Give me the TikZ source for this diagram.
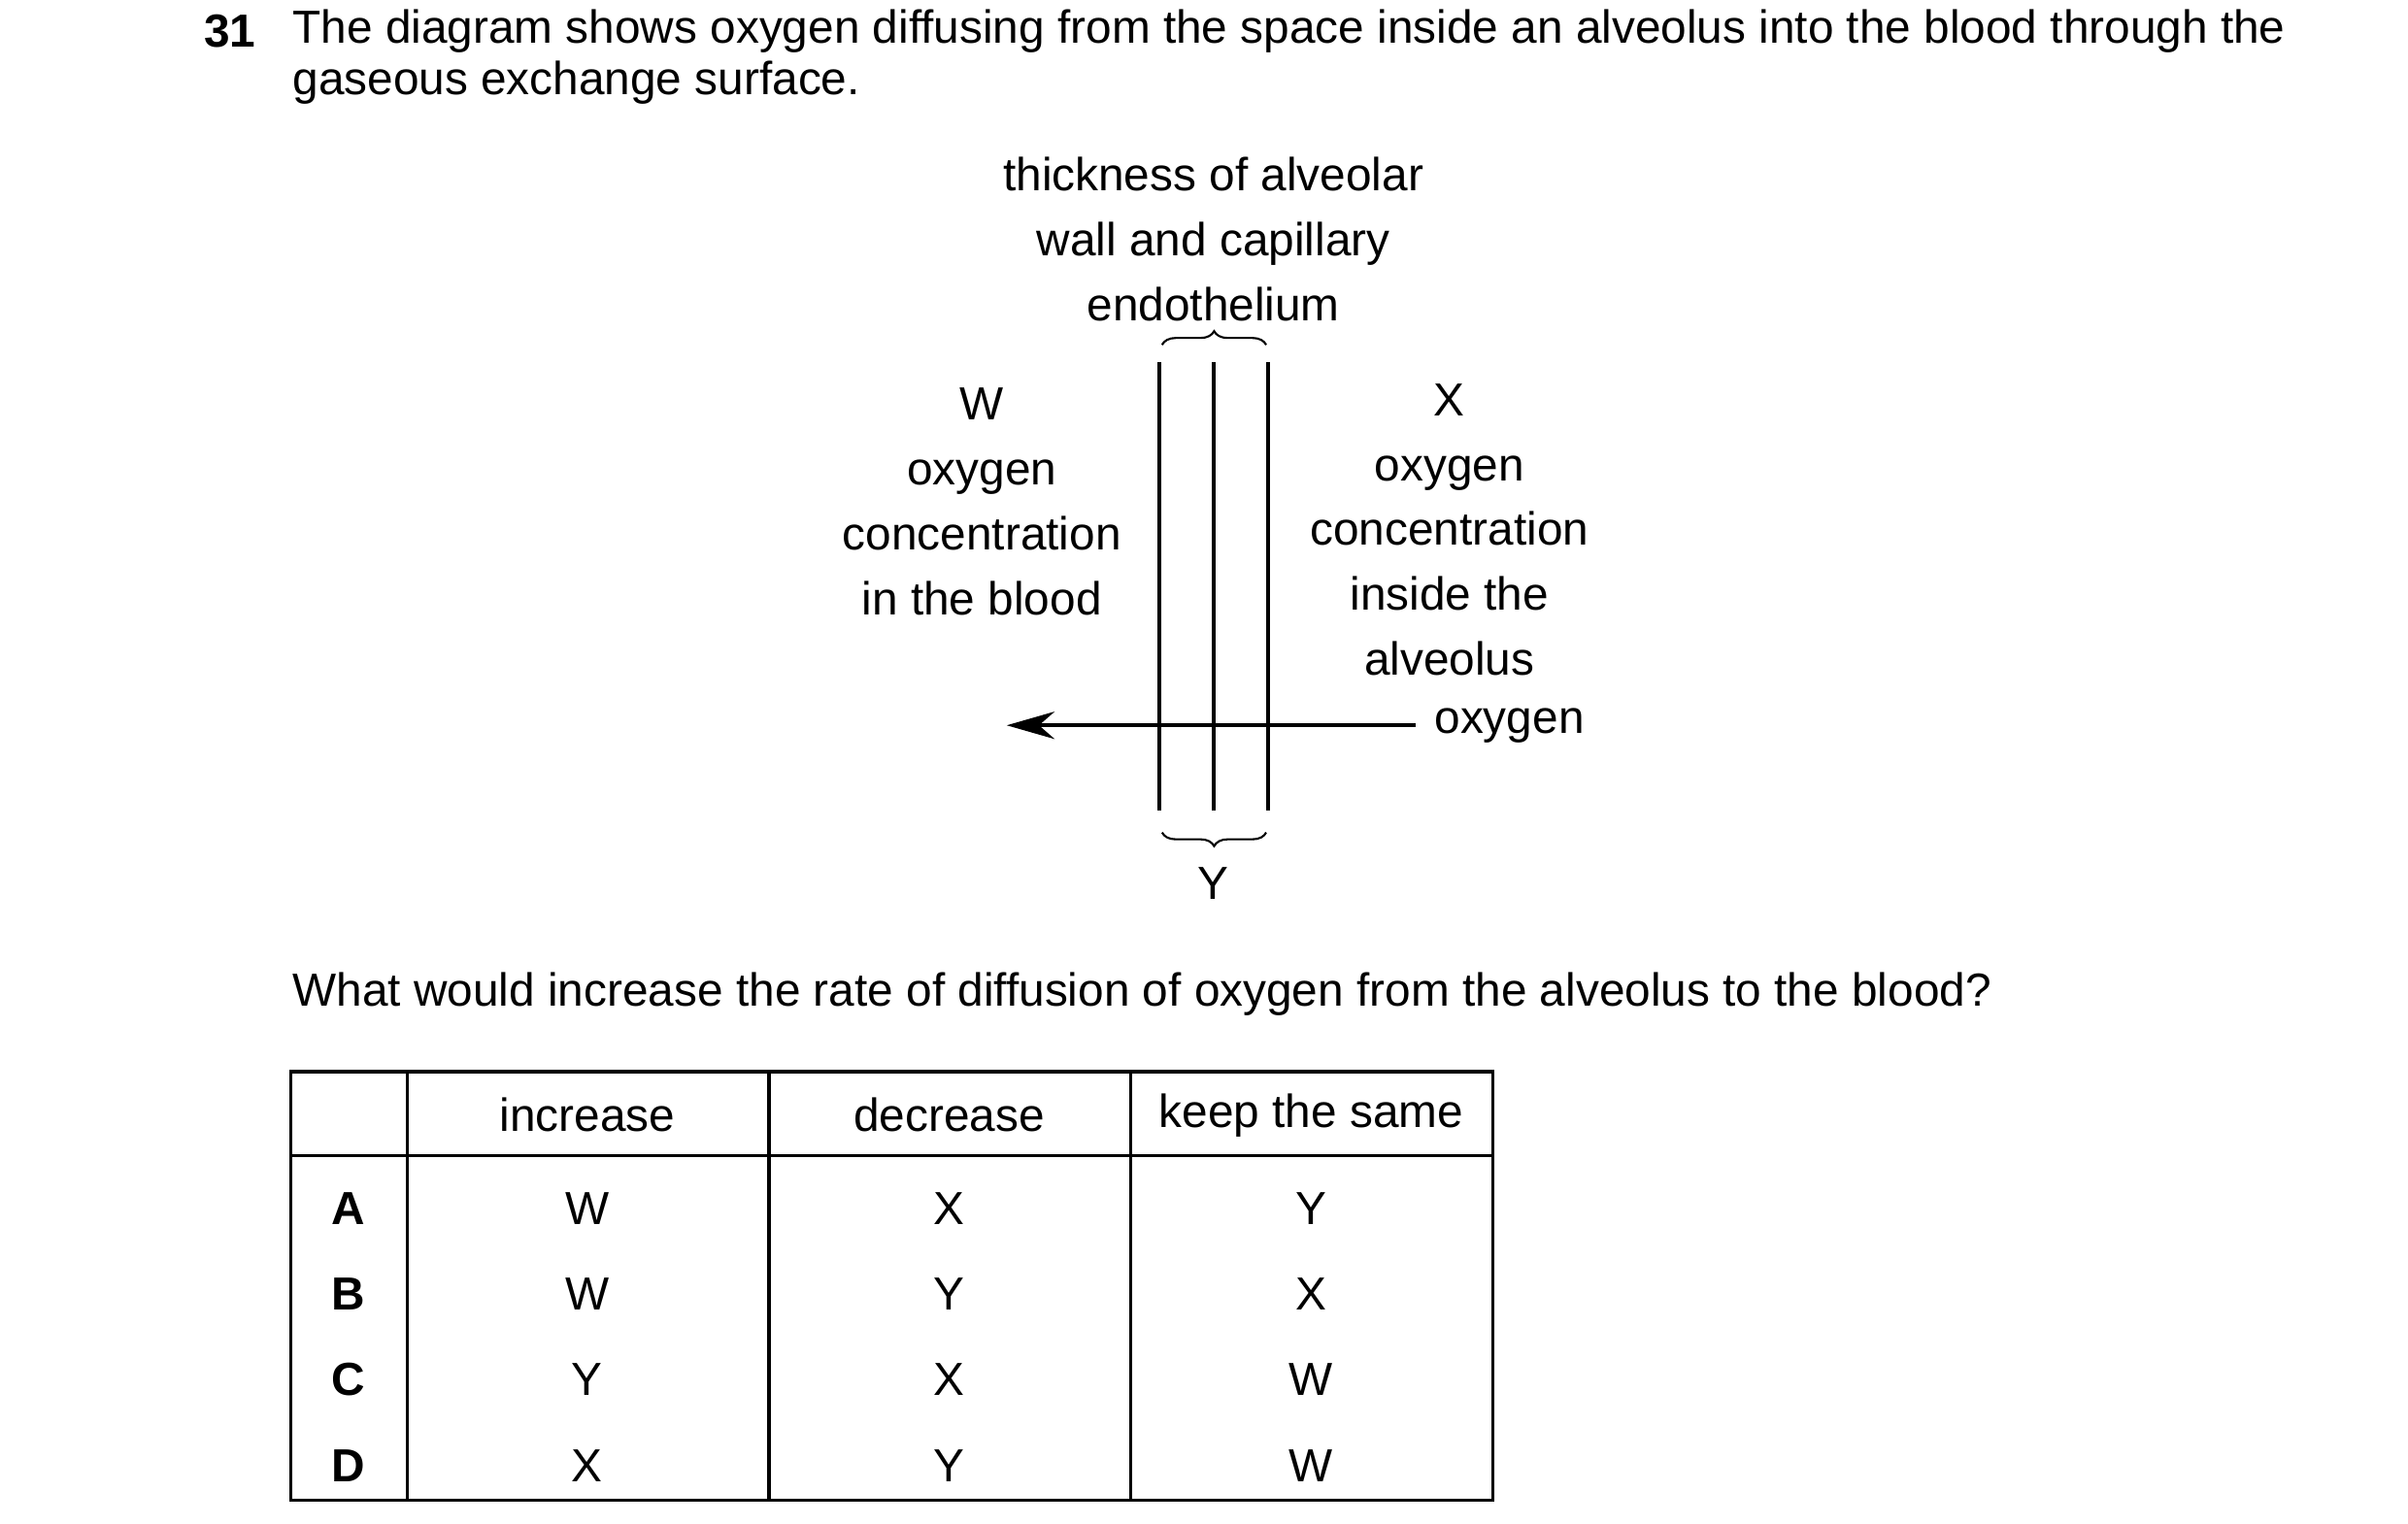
\documentclass[tikz,border=0pt]{standalone}
\usepackage{fontspec}
\setmainfont{Liberation Sans}
\usetikzlibrary{decorations.pathreplacing,arrows.meta}
\begin{document}
\begin{tikzpicture}[x=0.016cm,y=-0.016cm,
  txt/.style={inner sep=0pt,font=\fontsize{13.6}{16}\selectfont},
  lbl/.style={txt,align=center},
  ln/.style={line width=1.2pt},
  tb/.style={line width=0.9pt},
  br/.style={decorate,decoration={brace,amplitude=4pt},line width=0.6pt}]
\useasboundingbox (0,0) rectangle (1550,981);
\node[txt,font=\fontsize{13.6}{16}\selectfont\bfseries,anchor=west] (num) at (131,20) {31};
\node[txt,anchor=west] (l1) at (188,20) {The diagram shows oxygen diffusing from the space inside an alveolus into the blood through the};
\node[txt,anchor=west] (l2) at (188,53) {gaseous exchange surface.};
\node[lbl] (thick) at (781,154) {thickness of alveolar\\[3pt]wall and capillary\\[3pt]endothelium};
\coordinate (t1) at (746,233); \coordinate (b1) at (746,522);
\coordinate (t2) at (781,233); \coordinate (b2) at (781,522);
\coordinate (t3) at (816,233); \coordinate (b3) at (816,522);
\draw[ln] (t1)--(b1); \draw[ln] (t2)--(b2); \draw[ln] (t3)--(b3);
\coordinate (bt1) at (748,222); \coordinate (bt2) at (815,222);
\draw[br] (bt1)--(bt2);
\coordinate (bb1) at (815,536); \coordinate (bb2) at (748,536);
\draw[br] (bb1)--(bb2);
\node[txt] (Y) at (781,569) {Y};
\node[lbl] (W) at (632,323) {W\\[3pt]oxygen\\[3pt]concentration\\[3pt]in the blood};
\node[lbl] (X) at (933,341) {X\\[3pt]oxygen\\[3pt]concentration\\[3pt]inside the\\[3pt]alveolus};
\node[txt,anchor=west] (ox) at (923,467) {oxygen};
\coordinate (aend) at (648,467);
\draw[ln,-{Stealth[length=14pt,width=8pt]}] (ox.west)++(-12,0) -- (aend);
\node[txt,anchor=west] (q) at (188,640) {What would increase the rate of diffusion of oxygen from the alveolus to the blood?};
% table
\draw[tb] (187,690) rectangle (961,966);
\draw[tb] (187,744)--(961,744);
\foreach \x in {262,495,728} \draw[tb] (\x,690)--(\x,966);
\node[txt] (h1) at (378,718) {increase};
\node[txt] (h2) at (611,718) {decrease};
\node[txt] (h3) at (844,718) {keep the same};
\foreach \r/\y/\a/\b/\c in {A/778/W/X/Y, B/833/W/Y/X, C/888/Y/X/W, D/944/X/Y/W}{
  \node[txt,font=\fontsize{13.6}{16}\selectfont\bfseries] (r\r) at (224,\y) {\r};
  \node[txt] (r\r a) at (378,\y) {\a};
  \node[txt] (r\r b) at (611,\y) {\b};
  \node[txt] (r\r c) at (844,\y) {\c};
}
\end{tikzpicture}
\end{document}
